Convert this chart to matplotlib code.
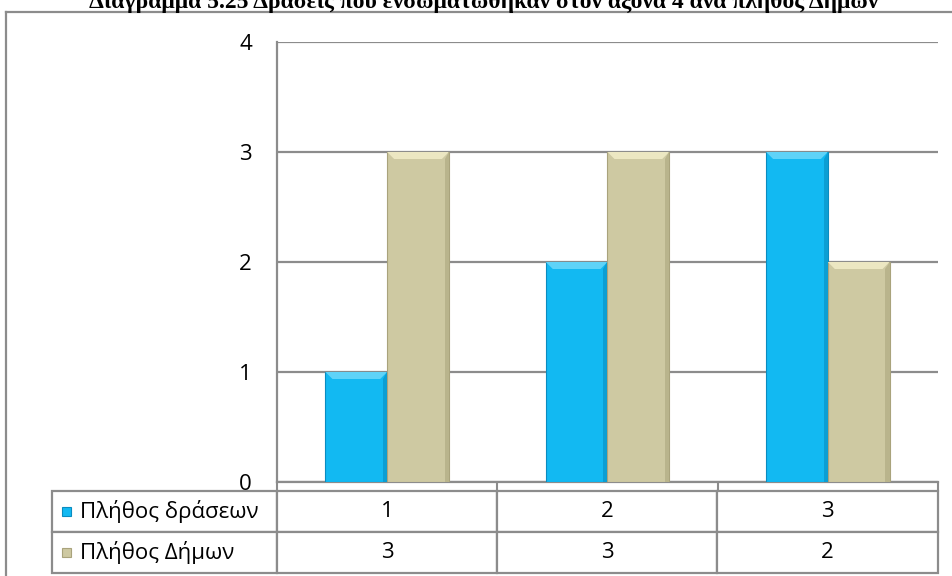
import matplotlib
matplotlib.use("Agg")
import matplotlib.pyplot as plt
from matplotlib.lines import Line2D
from matplotlib.patches import Rectangle, Polygon
import numpy as np

# ---- data ----
title = "Διάγραμμα 5.25 Δράσεις που ενσωματώθηκαν στον άξονα 4 ανά πλήθος Δήμων"
categories = ["1", "2", "3"]
series_names = ["Πλήθος δράσεων", "Πλήθος Δήμων"]
draseis = [1, 2, 3]
dimoi = [3, 3, 2]
series_values = [draseis, dimoi]
y_ticks = [0, 1, 2, 3, 4]

colors = ["#12B9F2", "#CEC9A2"]
edge_colors = ["#0A8CC0", "#A9A37C"]
top_colors = ["#5FD3F8", "#ECE7C2"]
side_colors = ["#0B9ED3", "#B9B48C"]

plt.rcParams['font.family'] = ['Open Sans', 'DejaVu Sans']

W, H = 953, 576
fig = plt.figure(figsize=(W / 100, H / 100), dpi=100)

# axes placement in pixel terms
ax_l, ax_r, ax_t, ax_b = 277, 938, 42, 482
ax = fig.add_axes([ax_l / W, 1 - ax_b / H, (ax_r - ax_l) / W, (ax_b - ax_t) / H])

x = np.arange(len(categories))
bw = 0.28
offsets = [-bw / 2, bw / 2]
ymax = 4
px_x = (len(categories)) / (ax_r - ax_l)   # data units per pixel (x)
px_y = ymax / (ax_b - ax_t)                # data units per pixel (y)
bev_x, bev_y = 7 * px_x, 7 * px_y
for vals, off, c, ec, tc, sc in zip(series_values, offsets, colors, edge_colors, top_colors, side_colors):
    bars = ax.bar(x + off, vals, width=bw, color=c, edgecolor=ec, linewidth=0.8, zorder=3)
    for b in bars:
        x0, w, h = b.get_x(), b.get_width(), b.get_height()
        # top bevel
        ax.add_patch(Polygon([(x0, h), (x0 + w, h), (x0 + w - bev_x, h - bev_y), (x0 + bev_x, h - bev_y)],
                             closed=True, facecolor=tc, edgecolor='none', zorder=4))
        # right side shade
        ax.add_patch(Polygon([(x0 + w, h), (x0 + w, 0), (x0 + w - bev_x * 0.6, 0),
                              (x0 + w - bev_x * 0.6, h - bev_y)],
                             closed=True, facecolor=sc, edgecolor='none', zorder=4))

ax.set_xlim(-0.5, len(categories) - 0.5)
ax.set_ylim(0, ymax)
ax.set_yticks(y_ticks)
ax.set_yticklabels([str(t) for t in y_ticks], fontsize=16)
ax.tick_params(axis='y', length=0, pad=18)
ax.set_xticks(np.arange(len(categories) + 1) - 0.5)
ax.set_xticklabels([])
ax.tick_params(axis='x', length=7, width=1.5, color="#8C8C8C", direction='out')
ax.grid(axis='y', color="#8C8C8C", linewidth=1.6, zorder=0)
for s in ['top', 'right']:
    ax.spines[s].set_visible(False)
ax.spines['left'].set_color("#8C8C8C")
ax.spines['left'].set_linewidth(1.6)
ax.spines['bottom'].set_color("#8C8C8C")
ax.spines['bottom'].set_linewidth(1.6)

# data table below the axis
cell_text = [["    " + name] + [str(v) for v in vals] for name, vals in zip(series_names, series_values)]
tbl_left = (52 - ax_l) / (ax_r - ax_l)
tbl_top = (ax_b - 491) / (ax_b - ax_t)
tbl_bot = (ax_b - 573) / (ax_b - ax_t)
widths = np.array([225, 220, 220, 221], dtype=float)
widths = widths / widths.sum()
tbl = ax.table(cellText=cell_text, colWidths=list(widths), cellLoc='center',
               bbox=[tbl_left, tbl_bot, 1 - tbl_left, tbl_top - tbl_bot])
tbl.auto_set_font_size(False)
tbl.set_fontsize(16)
for (r, c), cell in tbl.get_celld().items():
    cell.set_edgecolor("#8C8C8C")
    cell.set_linewidth(1.6)
    if c == 0:
        cell.set_text_props(ha='left')
        cell.PAD = 0.02

# legend keys in the table
row_h = (tbl_top - tbl_bot) / 2
kx = (62 - ax_l) / (ax_r - ax_l)
kw = 9 / (ax_r - ax_l)
kh = 9 / (ax_b - ax_t)
for i, (c, ec) in enumerate(zip(colors, edge_colors)):
    cy = tbl_top - row_h * (i + 0.5)
    ax.add_patch(Rectangle((kx, cy - kh / 2), kw, kh, transform=ax.transAxes,
                           facecolor=c, edgecolor=ec, linewidth=0.8, clip_on=False, zorder=5))

# outer chart frame
fig.add_artist(Line2D([6 / W, 6 / W], [0, 1 - 12 / H], transform=fig.transFigure,
                      color="#8C8C8C", linewidth=1.6))
fig.add_artist(Line2D([6 / W, 1], [1 - 12 / H, 1 - 12 / H], transform=fig.transFigure,
                      color="#8C8C8C", linewidth=1.6))

# title (partially cut at top as in the reference)
fig.text(484 / W, 1 - 8 / H, title, ha='center', va='baseline',
         fontsize=17, fontweight='bold', family=['Liberation Serif', 'DejaVu Serif'])

fig.savefig("out.png", dpi=100)
